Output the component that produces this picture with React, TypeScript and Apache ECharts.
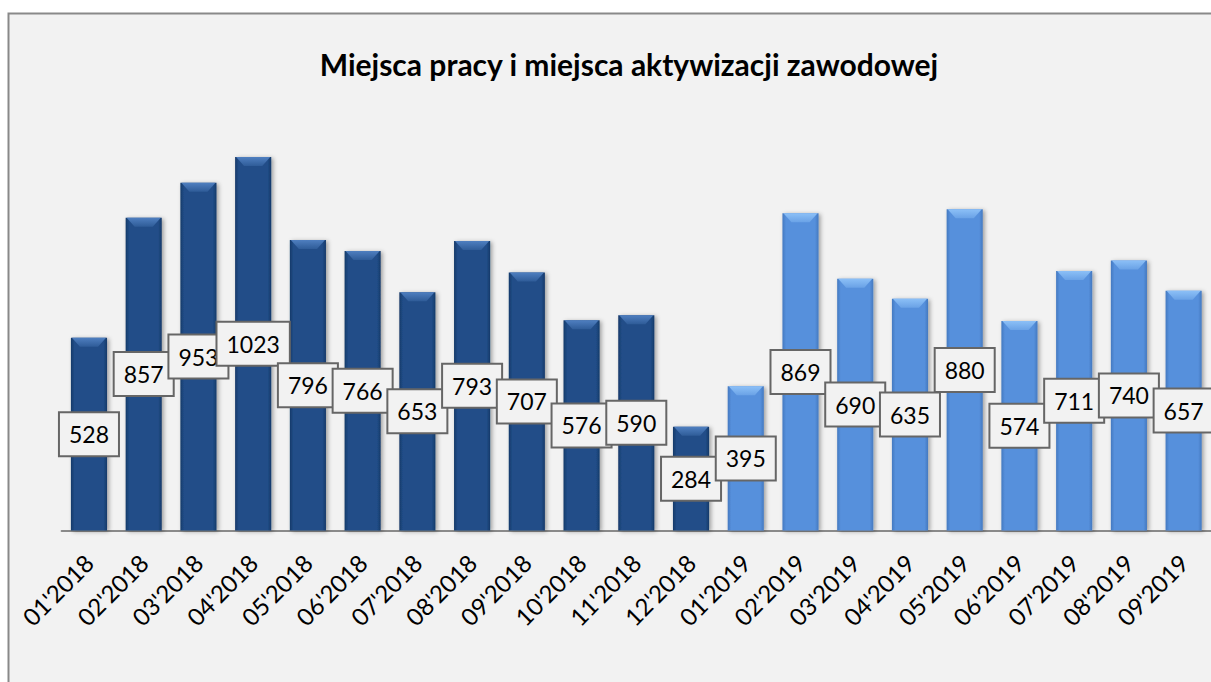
import React, { useEffect, useRef } from "react";
import * as echarts from "echarts";

const TITLE = "Miejsca pracy i miejsca aktywizacji zawodowej";

const categories = [
  "01'2018", "02'2018", "03'2018", "04'2018", "05'2018", "06'2018",
  "07'2018", "08'2018", "09'2018", "10'2018", "11'2018", "12'2018",
  "01'2019", "02'2019", "03'2019", "04'2019", "05'2019", "06'2019",
  "07'2019", "08'2019", "09'2019",
];

const values = [
  528, 857, 953, 1023, 796, 766, 653, 793, 707, 576, 590, 284,
  395, 869, 690, 635, 880, 574, 711, 740, 657,
];

const FONT = "Lato, 'Open Sans', sans-serif";

const darkGrad = () =>
  new echarts.graphic.LinearGradient(0, 0, 1, 0, [
    { offset: 0, color: "#163a69" },
    { offset: 0.1, color: "#214d88" },
    { offset: 0.9, color: "#214d88" },
    { offset: 1, color: "#163a69" },
  ]);
const lightGrad = () =>
  new echarts.graphic.LinearGradient(0, 0, 1, 0, [
    { offset: 0, color: "#4479c0" },
    { offset: 0.1, color: "#5690dc" },
    { offset: 0.9, color: "#5690dc" },
    { offset: 1, color: "#4479c0" },
  ]);

const is2019 = (c: string) => c.endsWith("2019");

export default function App() {
  const ref = useRef<HTMLDivElement>(null);
  useEffect(() => {
    if (!ref.current) return;
    const chart = echarts.init(ref.current, undefined, { renderer: "svg" });
    const barData = values.map((v, i) => ({
      value: v,
      itemStyle: { color: is2019(categories[i]) ? lightGrad() : darkGrad() },
    }));
    chart.setOption({
      animation: false,
      backgroundColor: "#ffffff",
      graphic: [
        {
          type: "rect",
          z: -10,
          silent: true,
          shape: { x: 8.5, y: 13.5, width: 1400, height: 900 },
          style: { fill: "#f2f2f2", stroke: "#898989", lineWidth: 2 },
        },
        {
          type: "text",
          x: 629,
          y: 64,
          z: 10,
          style: {
            text: TITLE,
            font: `bold 30px ${FONT}`,
            fill: "#000",
            align: "center",
            verticalAlign: "middle",
            textAlign: "center",
            textVerticalAlign: "middle",
          },
        },
      ],
      grid: { left: 61.6, right: 0, top: 92.5, bottom: 151.5, containLabel: false },
      xAxis: {
        type: "category",
        data: categories,
        axisLine: { show: true, lineStyle: { color: "#8a8a8a", width: 2 } },
        axisTick: { show: false },
        axisLabel: {
          interval: 0,
          rotate: 45,
          margin: 28,
          fontSize: 24,
          fontFamily: FONT,
          color: "#000",
        },
      },
      yAxis: {
        type: "value",
        min: 0,
        max: 1200,
        show: false,
        splitLine: { show: false },
      },
      series: [
        {
          type: "bar",
          z: 2,
          data: barData,
          barWidth: "66%",
          itemStyle: {
            shadowColor: "rgba(0,0,0,0.35)",
            shadowBlur: 4,
            shadowOffsetX: 2,
            shadowOffsetY: 1,
          },
          label: {
            show: true,
            position: "inside",
            fontSize: 23,
            lineHeight: 24,
            fontFamily: FONT,
            color: "#000",
            backgroundColor: "#f2f2f2",
            borderColor: "#666666",
            borderWidth: 2,
            padding: [9, 9, 9, 9],
          },
        },
        {
          type: "custom",
          z: 3,
          data: values.map((v, i) => [i, v]),
          encode: { x: 0, y: 1 },
          silent: true,
          renderItem: (params: any, api: any) => {
            const idx = api.value(0);
            const v = api.value(1);
            const top = api.coord([idx, v]);
            const bw = api.size([1, 0])[0] * 0.66;
            const x0 = top[0] - bw / 2;
            const x1 = top[0] + bw / 2;
            const y = top[1];
            const d = 9;
            const light = is2019(categories[idx]);
            return {
              type: "polygon",
              shape: {
                points: [
                  [x0 + 1, y],
                  [x1 - 1, y],
                  [x1 - d, y + d],
                  [x0 + d, y + d],
                ],
              },
              style: {
                fill: new echarts.graphic.LinearGradient(0, 0, 0, 1, [
                  { offset: 0, color: light ? "#8cc0f7" : "#4f7fc0" },
                  { offset: 1, color: light ? "#6aa2e6" : "#2f5c98" },
                ]),
              },
            };
          },
        },
      ],
    });
    return () => chart.dispose();
  }, []);
  return (
    <div
      ref={ref}
      style={{ position: "fixed", left: 0, top: 0, width: 1211, height: 682 }}
    />
  );
}
